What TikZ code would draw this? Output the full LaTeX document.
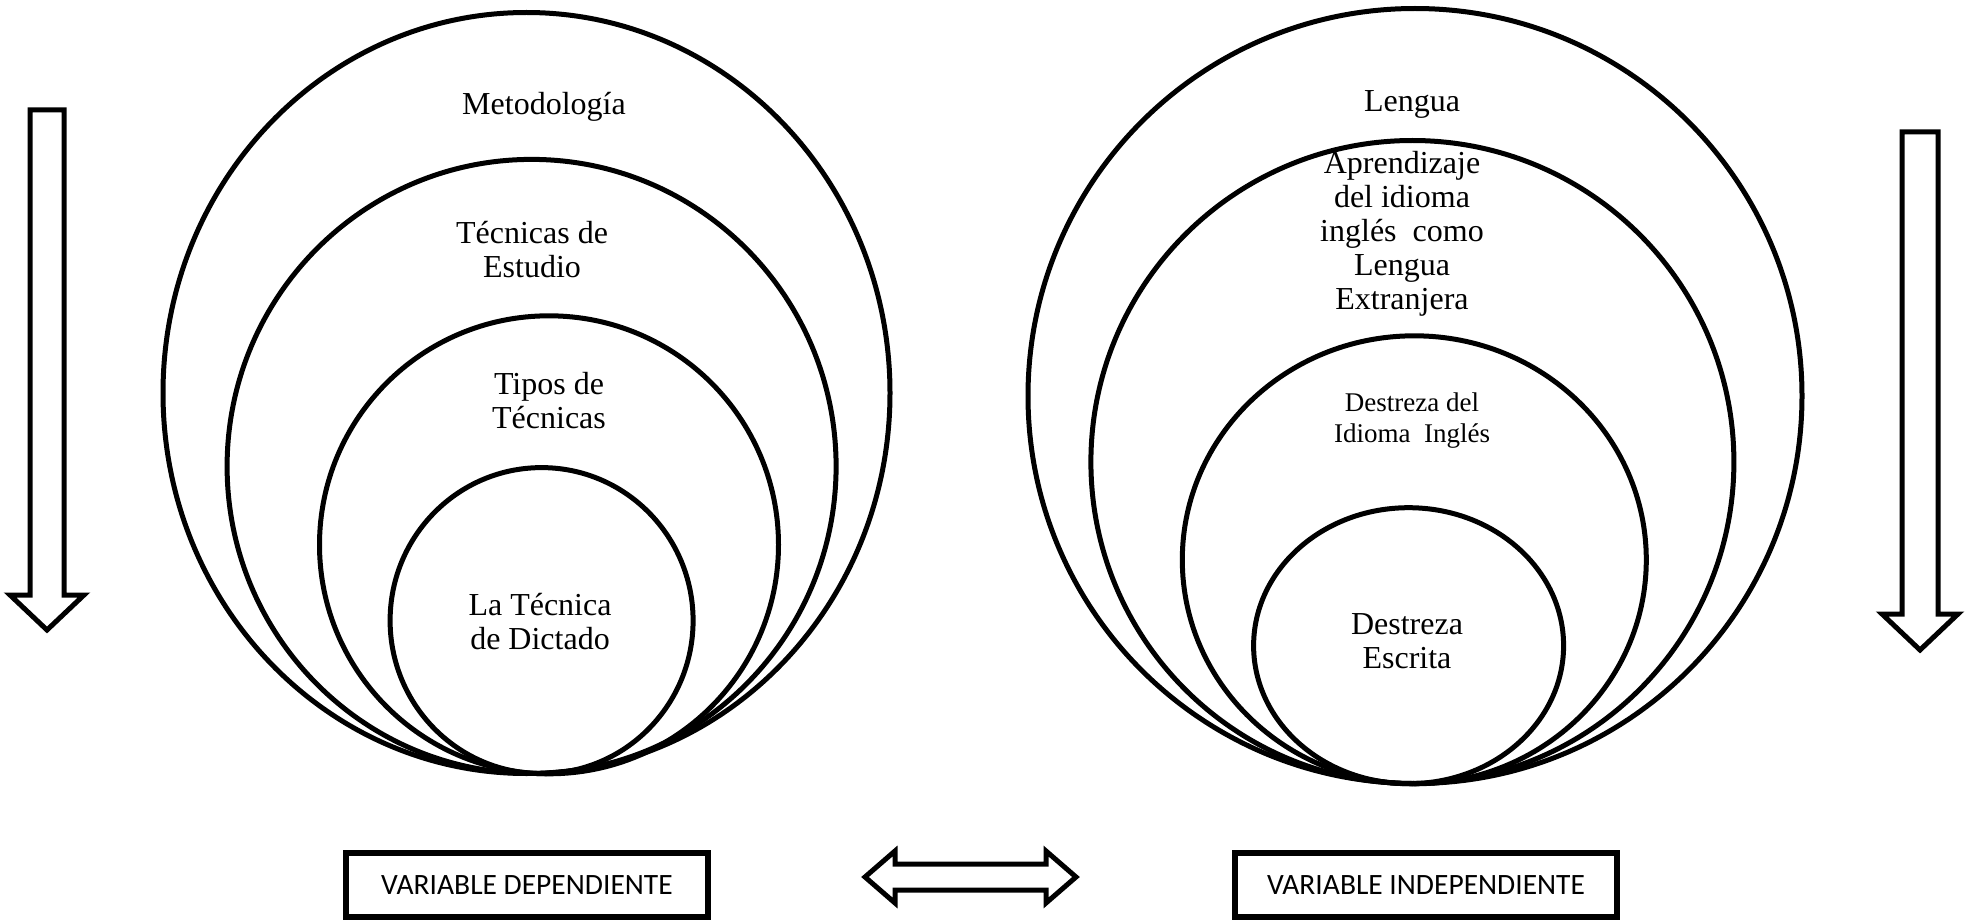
\documentclass[tikz,border=0pt]{standalone}
\usepackage{fontspec}
\setmainfont{Liberation Serif}
\newfontfamily\boxfont{Carlito}
\usetikzlibrary{shapes.geometric}
\begin{document}
\begin{tikzpicture}[x=1pt,y=-1pt,
  ring/.style={draw, ellipse, line width=5pt, inner sep=0pt},
  lbl/.style={align=center, font=\fontsize{32}{34}\selectfont, inner sep=0pt},
  smalllbl/.style={align=center, font=\fontsize{27}{31}\selectfont, inner sep=0pt},
  varbox/.style={draw, line width=5.5pt, inner sep=0pt, font=\boxfont\fontsize{29.5}{31}\selectfont},
  blockarrow/.style={draw, line width=5pt, fill=white, line join=miter}]
\useasboundingbox (0,0) rectangle (1966,920);
% left rings
\node[ring, minimum width=727pt, minimum height=761pt] (L1) at (526.5,393) {};
\node[ring, minimum width=609pt, minimum height=614pt] (L2) at (531.6,466.4) {};
\node[ring, minimum width=459pt, minimum height=458pt] (L3) at (549,544.8) {};
\node[ring, minimum width=303pt, minimum height=306pt] (L4) at (541.6,620.6) {};
% right rings
\node[ring, minimum width=774pt, minimum height=775pt] (R1) at (1415,396) {};
\node[ring, minimum width=643pt, minimum height=643pt] (R2) at (1412.4,462) {};
\node[ring, minimum width=464pt, minimum height=448pt] (R3) at (1414.3,559.8) {};
\node[ring, minimum width=310pt, minimum height=276pt] (R4) at (1408.6,645.7) {};
% labels
\node[lbl] (t1) at (544,107) {Metodología};
\node[lbl] (t2) at (532,250) {Técnicas de\\Estudio};
\node[lbl] (t3) at (549,401) {Tipos de\\Técnicas};
\node[lbl] (t4) at (540,622) {La Técnica\\de Dictado};
\node[lbl] (r1) at (1412,104) {Lengua};
\node[lbl] (r2) at (1402,234) {Aprendizaje\\del idioma\\inglés\ \ como\\Lengua\\Extranjera};
\node[smalllbl] (r3) at (1412,421) {Destreza del\\Idioma\ \ Inglés};
\node[lbl] (r4) at (1407,641) {Destreza\\Escrita};
% boxes
\node[varbox, minimum width=362pt, minimum height=64pt] (vd) at (527,885) {VARIABLE DEPENDIENTE};
\node[varbox, minimum width=382pt, minimum height=64pt] (vi) at (1426,885) {VARIABLE INDEPENDIENTE};
% double arrow
\draw[blockarrow] (865,877) -- (895,851) -- (895,864) -- (1046,864) -- (1046,851) -- (1076,877)
  -- (1046,903) -- (1046,890) -- (895,890) -- (895,903) -- cycle;
% vertical arrows
\draw[blockarrow] (30,110) -- (64,110) -- (64,595) -- (84,595) -- (47,630) -- (10,595) -- (30,595) -- cycle;
\draw[blockarrow] (1902,132) -- (1938,132) -- (1938,614) -- (1958,614) -- (1920,650) -- (1882,614) -- (1902,614) -- cycle;
\end{tikzpicture}
\end{document}
